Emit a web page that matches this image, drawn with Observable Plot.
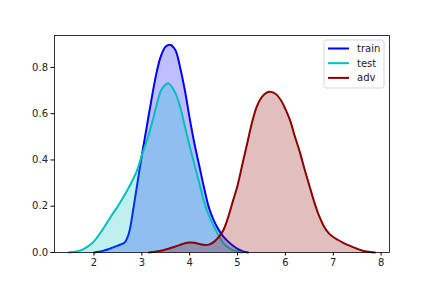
<!DOCTYPE html>
<html><head><meta charset="utf-8">
<script src="https://cdn.jsdelivr.net/npm/d3@7"></script>
<script src="https://cdn.jsdelivr.net/npm/@observablehq/plot@0.6"></script>
<style>body{margin:0;background:#fff;font-family:"DejaVu Sans",sans-serif}</style>
</head><body><div id="chart"></div>
<script>
const trainX = [2.0,2.1,2.2,2.3,2.4,2.5,2.6,2.65,2.7,2.75,2.8,2.9,3.0,3.1,3.2,3.3,3.4,3.5,3.6,3.7,3.8,3.9,4.0,4.1,4.2,4.3,4.4,4.5,4.6,4.7,4.8,4.9,5.0,5.1,5.22];
const trainY = [0,0.003,0.008,0.014,0.022,0.03,0.038,0.045,0.065,0.1,0.16,0.29,0.42,0.54,0.66,0.77,0.85,0.89,0.897,0.875,0.80,0.70,0.58,0.47,0.375,0.28,0.195,0.14,0.10,0.07,0.048,0.03,0.016,0.006,0];
const testX = [1.47,1.6,1.7,1.8,1.9,2.0,2.1,2.2,2.3,2.4,2.5,2.6,2.7,2.8,2.9,3.0,3.1,3.2,3.3,3.4,3.5,3.56,3.7,3.8,3.9,4.0,4.1,4.2,4.3,4.4,4.5,4.6,4.7,4.8,4.9,5.0,5.1];
const testY = [0,0.003,0.008,0.017,0.03,0.048,0.075,0.105,0.138,0.17,0.20,0.235,0.27,0.31,0.355,0.42,0.48,0.55,0.63,0.70,0.727,0.731,0.69,0.63,0.545,0.46,0.38,0.30,0.22,0.16,0.115,0.075,0.042,0.022,0.01,0.004,0];
const advX = [3.15,3.3,3.5,3.67,3.8,3.9,4.0,4.1,4.2,4.3,4.4,4.5,4.6,4.7,4.8,4.9,5.0,5.1,5.2,5.3,5.4,5.5,5.6,5.68,5.8,5.9,6.0,6.1,6.2,6.3,6.4,6.5,6.6,6.7,6.8,6.9,7.0,7.1,7.2,7.3,7.4,7.5,7.6,7.7,7.87];
const advY = [0,0.004,0.013,0.024,0.033,0.04,0.043,0.042,0.037,0.033,0.034,0.045,0.065,0.095,0.15,0.22,0.29,0.38,0.47,0.56,0.63,0.67,0.69,0.695,0.685,0.66,0.62,0.57,0.50,0.435,0.36,0.29,0.22,0.16,0.115,0.085,0.067,0.054,0.043,0.033,0.024,0.016,0.009,0.004,0];
const xTicks = [2,3,4,5,6,7,8];
const yTicks = [0,0.2,0.4,0.6,0.8];
const seriesNames = ["train","test","adv"];
const seriesColors = ["#0000ff","#00bfbf","#8b0000"];

const toRows = (xs, ys) => xs.map((x,i)=>({x, y: ys[i]}));
const series = [toRows(trainX,trainY), toRows(testX,testY), toRows(advX,advY)];

const marks = [];
series.forEach((rows,i)=>{
  marks.push(Plot.areaY(rows,{x:"x",y:"y",fill:seriesColors[i],fillOpacity:0.25,curve:"catmull-rom"}));
  marks.push(Plot.lineY(rows,{x:"x",y:"y",stroke:seriesColors[i],strokeWidth:2,curve:"catmull-rom"}));
});
marks.push(Plot.frame({stroke:"#000",strokeWidth:0.8}));
marks.push(Plot.axisX({ticks:xTicks,tickSize:3.5,tickPadding:3,tickFormat:d=>String(d),label:null,fontSize:10,stroke:"#000",color:"#222"}));
marks.push(Plot.axisY({ticks:yTicks,tickSize:3.5,tickPadding:3,tickFormat:d=>d.toFixed(1),label:null,fontSize:10,stroke:"#000",color:"#222"}));

const plot = Plot.plot({
  width:432,height:288,
  marginLeft:54,marginRight:43,marginTop:35,marginBottom:36,
  style:{fontFamily:"DejaVu Sans",fontSize:"10px",background:"#fff"},
  x:{domain:[1.175,8.175]},
  y:{domain:[0,0.938]},
  marks
});
document.getElementById("chart").appendChild(plot);

// legend
const svg = d3.select(plot);
const lg = svg.append("g").attr("transform","translate(324,40)");
lg.append("rect").attr("width",60).attr("height",48).attr("rx",2.5)
  .attr("fill","#fff").attr("fill-opacity",0.8).attr("stroke","#ccc").attr("stroke-width",0.8);
seriesNames.forEach((name,i)=>{
  const y = 8.5 + i*14.7;
  lg.append("line").attr("x1",4).attr("x2",25).attr("y1",y).attr("y2",y)
    .attr("stroke",seriesColors[i]).attr("stroke-width",2);
  lg.append("text").attr("x",33).attr("y",y).attr("dy","0.35em").attr("text-anchor","start")
    .attr("font-size",10).attr("font-family","DejaVu Sans").attr("fill","#222").text(name);
});
</script>
</body></html>
